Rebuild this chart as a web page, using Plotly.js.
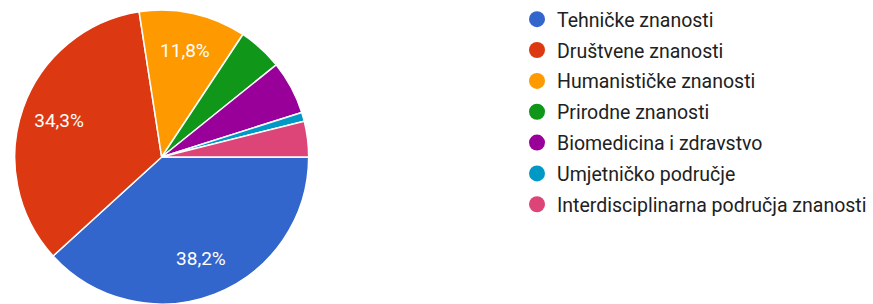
<!DOCTYPE html>
<html><head><meta charset="utf-8">
<script src="https://cdn.plot.ly/plotly-3.0.1.min.js"></script>
<style>body{margin:0;padding:0;background:#fff}#chart{width:873px;height:304px}</style>
</head><body><div id="chart"></div>
<script>
const categories = ["Tehničke znanosti","Društvene znanosti","Humanističke znanosti","Prirodne znanosti","Biomedicina i zdravstvo","Umjetničko područje","Interdisciplinarna područja znanosti"];
const counts = [39,35,12,5,6,1,4];
const colors = ["#3366cc","#dc3912","#ff9900","#109618","#990099","#0099c6","#dd4477"];

const total = counts.reduce((a,b)=>a+b,0);
const templates = counts.map(c => (c/total >= 0.1) ? "%{percent:.1%}" : "");
const FONT = "Roboto, Arial, sans-serif";
const dom = {x: [0.0168, 0.3536], y: [0, 0.967]};

const traces = [{
  type: "pie",
  labels: categories,
  values: counts,
  sort: false,
  direction: "clockwise",
  rotation: 90,
  marker: {colors: colors, line: {color: "#ffffff", width: 1.5}},
  textinfo: "none",
  hoverinfo: "none",
  showlegend: false,
  domain: dom
}, {
  // transparent ring used only to place the percentage labels
  type: "pie",
  labels: categories,
  values: counts,
  sort: false,
  direction: "clockwise",
  rotation: 90,
  hole: 0.48,
  marker: {colors: categories.map(()=>"rgba(0,0,0,0)"), line: {width: 0}},
  texttemplate: templates,
  textposition: "inside",
  insidetextorientation: "horizontal",
  insidetextfont: {color: "#ffffff", size: 19, family: FONT},
  hoverinfo: "none",
  showlegend: false,
  domain: dom
}];
categories.forEach((c,i) => {
  traces.push({
    type: "scatter", mode: "markers", x: [null], y: [null],
    name: c, legendgroup: "g"+i,
    marker: {symbol: "circle", size: 17, color: colors[i]},
    hoverinfo: "none"
  });
});

Plotly.newPlot("chart", traces, {
  width: 873, height: 304,
  margin: {l:0, r:0, t:0, b:0},
  separators: ", ",
  paper_bgcolor: "#ffffff", plot_bgcolor: "#ffffff",
  xaxis: {visible: false}, yaxis: {visible: false},
  showlegend: true,
  legend: {x: 517/873, xanchor: "left", y: 1, yanchor: "top", tracegroupgap: 2.5,
    font: {size: 19.5, color: "#212121", family: FONT}},
  font: {family: FONT}
}, {staticPlot: true});
</script></body></html>
